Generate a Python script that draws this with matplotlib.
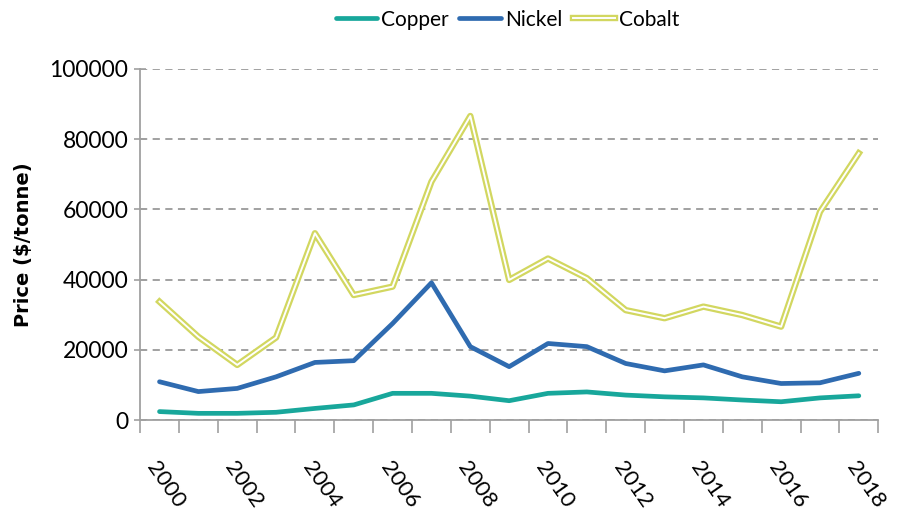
import matplotlib.pyplot as plt
import matplotlib.patheffects as pe
import numpy as np

years = list(range(2000, 2019))
copper = [2400, 1900, 1900, 2200, 3300, 4300, 7600, 7600, 6800, 5500,
          7600, 8000, 7100, 6600, 6300, 5700, 5200, 6300, 6900]
nickel = [10900, 8100, 9000, 12300, 16400, 16900, 27500, 39100, 20900, 15200,
          21800, 20900, 16100, 14000, 15700, 12300, 10400, 10600, 13300]
cobalt = [33700, 23700, 15700, 23500, 53200, 35600, 38000, 67900, 86600, 39900,
          46000, 40400, 31300, 29000, 32300, 29900, 26600, 59300, 76000]

plt.rcParams['font.family'] = ['Lato', 'DejaVu Sans']

fig = plt.figure(figsize=(8.98, 5.17), dpi=100)
ax = fig.add_axes([0.156, 0.1876, 0.822, 0.679])

x = np.arange(len(years))
ax.plot(x, copper, color='#18A79B', lw=3.4, label='Copper', solid_capstyle='round')
ax.plot(x, nickel, color='#2F6BB0', lw=3.4, label='Nickel', solid_capstyle='round')
ax.plot(x, cobalt, color='white', lw=1.4, label='Cobalt',
        path_effects=[pe.Stroke(linewidth=4.6, foreground='#D2D760'), pe.Normal()])

ax.set_xlim(-0.5, len(years) - 0.5)
ax.set_ylim(0, 100000)
ax.set_yticks(np.arange(0, 100001, 20000))
ax.yaxis.grid(True, color='#9A9A9A', ls=(0, (4, 3)), lw=1.3)
ax.set_axisbelow(True)

ax.set_xticks(x[::2])
ax.set_xticklabels([str(y) for y in years[::2]], rotation=-55, ha='left', va='top',
                   rotation_mode='anchor', fontsize=16)
ax.set_xticks(np.arange(-0.5, len(years), 1), minor=True)
ax.tick_params(axis='x', which='major', length=0, pad=27)
ax.tick_params(axis='x', which='minor', length=9, color='#A0A0A0', width=1.2)
ax.tick_params(axis='y', direction='inout', length=9, color='#A0A0A0', width=1.2,
               labelsize=16.5, pad=4)

for s in ['top', 'right']:
    ax.spines[s].set_visible(False)
for s in ['left', 'bottom']:
    ax.spines[s].set_color('#A0A0A0')
    ax.spines[s].set_linewidth(1.3)

ax.set_ylabel('Price ($/tonne)', fontsize=14, fontweight='bold', family='DejaVu Sans', labelpad=12)

fig.legend(*ax.get_legend_handles_labels(), loc='center', bbox_to_anchor=(0.565, 0.962),
           ncol=3, frameon=False, fontsize=15, handlelength=2.0, handletextpad=0.2,
           columnspacing=0.5)

fig.savefig('out.png', dpi=100)
